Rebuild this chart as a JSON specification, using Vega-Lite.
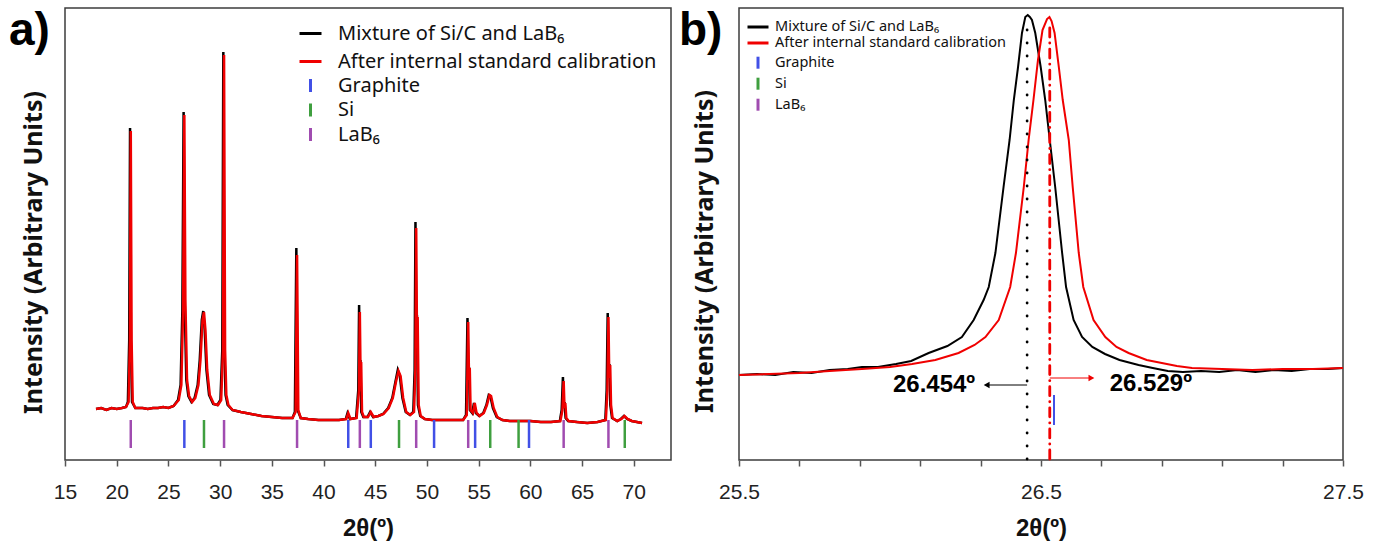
{
  "$schema": "https://vega.github.io/schema/vega-lite/v6.json",
  "background": "white",
  "padding": {"left": 8, "top": 7, "right": 0, "bottom": 0},
  "config": {
    "view": {"stroke": "#3c3c3c", "strokeWidth": 1.5},
    "font": "Liberation Sans",
    "axis": {"grid": false, "domain": false, "tickColor": "#555555", "tickWidth": 1.5, "tickSize": 6, "labelFont": "Liberation Sans", "labelFontSize": 21, "labelColor": "#222222", "labelPadding": 15, "labelOverlap": false, "labelFlush": false, "titleFont": "Liberation Sans", "titleFontWeight": "bold", "titleFontSize": 24, "titleColor": "#111111", "titlePadding": 14},
    "legend": {"labelFont": "Noto Sans", "labelColor": "#111111", "title": null, "labelLimit": 600}
  },
  "datasets": {
    "a_black": [
      {"series":"Mixture of Si/C and LaB₆","two_theta":18.0,"intensity":51},{"series":"Mixture of Si/C and LaB₆","two_theta":18.5,"intensity":52},{"series":"Mixture of Si/C and LaB₆","two_theta":19.0,"intensity":50},{"series":"Mixture of Si/C and LaB₆","two_theta":19.5,"intensity":52},{"series":"Mixture of Si/C and LaB₆","two_theta":20.0,"intensity":51},{"series":"Mixture of Si/C and LaB₆","two_theta":20.5,"intensity":52},{"series":"Mixture of Si/C and LaB₆","two_theta":20.9,"intensity":53},{"series":"Mixture of Si/C and LaB₆","two_theta":21.08,"intensity":58},{"series":"Mixture of Si/C and LaB₆","two_theta":21.21,"intensity":120},{"series":"Mixture of Si/C and LaB₆","two_theta":21.29,"intensity":332},{"series":"Mixture of Si/C and LaB₆","two_theta":21.37,"intensity":120},{"series":"Mixture of Si/C and LaB₆","two_theta":21.48,"intensity":58},{"series":"Mixture of Si/C and LaB₆","two_theta":21.8,"intensity":52},{"series":"Mixture of Si/C and LaB₆","two_theta":22.5,"intensity":52},{"series":"Mixture of Si/C and LaB₆","two_theta":23.0,"intensity":51},{"series":"Mixture of Si/C and LaB₆","two_theta":23.5,"intensity":52},{"series":"Mixture of Si/C and LaB₆","two_theta":24.0,"intensity":52},{"series":"Mixture of Si/C and LaB₆","two_theta":24.5,"intensity":53},{"series":"Mixture of Si/C and LaB₆","two_theta":25.0,"intensity":52},{"series":"Mixture of Si/C and LaB₆","two_theta":25.5,"intensity":54},{"series":"Mixture of Si/C and LaB₆","two_theta":25.93,"intensity":60},{"series":"Mixture of Si/C and LaB₆","two_theta":26.18,"intensity":75},{"series":"Mixture of Si/C and LaB₆","two_theta":26.35,"intensity":150},{"series":"Mixture of Si/C and LaB₆","two_theta":26.47,"intensity":348},{"series":"Mixture of Si/C and LaB₆","two_theta":26.57,"intensity":160},{"series":"Mixture of Si/C and LaB₆","two_theta":26.73,"intensity":80},{"series":"Mixture of Si/C and LaB₆","two_theta":26.93,"intensity":64},{"series":"Mixture of Si/C and LaB₆","two_theta":27.23,"intensity":58},{"series":"Mixture of Si/C and LaB₆","two_theta":27.53,"intensity":62},{"series":"Mixture of Si/C and LaB₆","two_theta":27.83,"intensity":75},{"series":"Mixture of Si/C and LaB₆","two_theta":28.03,"intensity":100},{"series":"Mixture of Si/C and LaB₆","two_theta":28.23,"intensity":140},{"series":"Mixture of Si/C and LaB₆","two_theta":28.37,"intensity":149},{"series":"Mixture of Si/C and LaB₆","two_theta":28.51,"intensity":130},{"series":"Mixture of Si/C and LaB₆","two_theta":28.68,"intensity":90},{"series":"Mixture of Si/C and LaB₆","two_theta":28.93,"intensity":65},{"series":"Mixture of Si/C and LaB₆","two_theta":29.33,"intensity":56},{"series":"Mixture of Si/C and LaB₆","two_theta":29.73,"intensity":55},{"series":"Mixture of Si/C and LaB₆","two_theta":30.03,"intensity":60},{"series":"Mixture of Si/C and LaB₆","two_theta":30.21,"intensity":110},{"series":"Mixture of Si/C and LaB₆","two_theta":30.31,"intensity":408},{"series":"Mixture of Si/C and LaB₆","two_theta":30.41,"intensity":110},{"series":"Mixture of Si/C and LaB₆","two_theta":30.53,"intensity":65},{"series":"Mixture of Si/C and LaB₆","two_theta":30.73,"intensity":55},{"series":"Mixture of Si/C and LaB₆","two_theta":31.2,"intensity":50},{"series":"Mixture of Si/C and LaB₆","two_theta":32.0,"intensity":48},{"series":"Mixture of Si/C and LaB₆","two_theta":33.0,"intensity":46},{"series":"Mixture of Si/C and LaB₆","two_theta":34.0,"intensity":44},{"series":"Mixture of Si/C and LaB₆","two_theta":35.0,"intensity":43},{"series":"Mixture of Si/C and LaB₆","two_theta":36.0,"intensity":42},{"series":"Mixture of Si/C and LaB₆","two_theta":37.0,"intensity":42},{"series":"Mixture of Si/C and LaB₆","two_theta":37.23,"intensity":48},{"series":"Mixture of Si/C and LaB₆","two_theta":37.37,"intensity":212},{"series":"Mixture of Si/C and LaB₆","two_theta":37.49,"intensity":50},{"series":"Mixture of Si/C and LaB₆","two_theta":37.8,"intensity":42},{"series":"Mixture of Si/C and LaB₆","two_theta":38.5,"intensity":41},{"series":"Mixture of Si/C and LaB₆","two_theta":39.5,"intensity":40},{"series":"Mixture of Si/C and LaB₆","two_theta":40.5,"intensity":40},{"series":"Mixture of Si/C and LaB₆","two_theta":41.5,"intensity":40},{"series":"Mixture of Si/C and LaB₆","two_theta":42.15,"intensity":41},{"series":"Mixture of Si/C and LaB₆","two_theta":42.32,"intensity":47},{"series":"Mixture of Si/C and LaB₆","two_theta":42.55,"intensity":41},{"series":"Mixture of Si/C and LaB₆","two_theta":43.15,"intensity":42},{"series":"Mixture of Si/C and LaB₆","two_theta":43.36,"intensity":70},{"series":"Mixture of Si/C and LaB₆","two_theta":43.44,"intensity":155},{"series":"Mixture of Si/C and LaB₆","two_theta":43.51,"intensity":85},{"series":"Mixture of Si/C and LaB₆","two_theta":43.57,"intensity":100},{"series":"Mixture of Si/C and LaB₆","two_theta":43.65,"intensity":48},{"series":"Mixture of Si/C and LaB₆","two_theta":43.85,"intensity":43},{"series":"Mixture of Si/C and LaB₆","two_theta":44.25,"intensity":43},{"series":"Mixture of Si/C and LaB₆","two_theta":44.5,"intensity":48},{"series":"Mixture of Si/C and LaB₆","two_theta":44.8,"intensity":43},{"series":"Mixture of Si/C and LaB₆","two_theta":45.3,"intensity":44},{"series":"Mixture of Si/C and LaB₆","two_theta":45.75,"intensity":46},{"series":"Mixture of Si/C and LaB₆","two_theta":46.25,"intensity":52},{"series":"Mixture of Si/C and LaB₆","two_theta":46.65,"intensity":62},{"series":"Mixture of Si/C and LaB₆","two_theta":46.95,"intensity":78},{"series":"Mixture of Si/C and LaB₆","two_theta":47.18,"intensity":90},{"series":"Mixture of Si/C and LaB₆","two_theta":47.38,"intensity":84},{"series":"Mixture of Si/C and LaB₆","two_theta":47.63,"intensity":62},{"series":"Mixture of Si/C and LaB₆","two_theta":47.95,"intensity":48},{"series":"Mixture of Si/C and LaB₆","two_theta":48.35,"intensity":45},{"series":"Mixture of Si/C and LaB₆","two_theta":48.68,"intensity":48},{"series":"Mixture of Si/C and LaB₆","two_theta":48.81,"intensity":90},{"series":"Mixture of Si/C and LaB₆","two_theta":48.89,"intensity":238},{"series":"Mixture of Si/C and LaB₆","two_theta":48.96,"intensity":135},{"series":"Mixture of Si/C and LaB₆","two_theta":49.03,"intensity":145},{"series":"Mixture of Si/C and LaB₆","two_theta":49.13,"intensity":55},{"series":"Mixture of Si/C and LaB₆","two_theta":49.35,"intensity":44},{"series":"Mixture of Si/C and LaB₆","two_theta":49.8,"intensity":41},{"series":"Mixture of Si/C and LaB₆","two_theta":50.5,"intensity":40},{"series":"Mixture of Si/C and LaB₆","two_theta":51.5,"intensity":40},{"series":"Mixture of Si/C and LaB₆","two_theta":52.5,"intensity":40},{"series":"Mixture of Si/C and LaB₆","two_theta":53.5,"intensity":40},{"series":"Mixture of Si/C and LaB₆","two_theta":53.78,"intensity":45},{"series":"Mixture of Si/C and LaB₆","two_theta":53.92,"intensity":142},{"series":"Mixture of Si/C and LaB₆","two_theta":54.0,"intensity":80},{"series":"Mixture of Si/C and LaB₆","two_theta":54.07,"intensity":93},{"series":"Mixture of Si/C and LaB₆","two_theta":54.15,"intensity":50},{"series":"Mixture of Si/C and LaB₆","two_theta":54.38,"intensity":47},{"series":"Mixture of Si/C and LaB₆","two_theta":54.55,"intensity":57},{"series":"Mixture of Si/C and LaB₆","two_theta":54.73,"intensity":47},{"series":"Mixture of Si/C and LaB₆","two_theta":55.05,"intensity":44},{"series":"Mixture of Si/C and LaB₆","two_theta":55.45,"intensity":47},{"series":"Mixture of Si/C and LaB₆","two_theta":55.75,"intensity":55},{"series":"Mixture of Si/C and LaB₆","two_theta":55.98,"intensity":65},{"series":"Mixture of Si/C and LaB₆","two_theta":56.13,"intensity":64},{"series":"Mixture of Si/C and LaB₆","two_theta":56.38,"intensity":52},{"series":"Mixture of Si/C and LaB₆","two_theta":56.75,"intensity":43},{"series":"Mixture of Si/C and LaB₆","two_theta":57.3,"intensity":40},{"series":"Mixture of Si/C and LaB₆","two_theta":58.0,"intensity":39},{"series":"Mixture of Si/C and LaB₆","two_theta":59.0,"intensity":39},{"series":"Mixture of Si/C and LaB₆","two_theta":60.0,"intensity":39},{"series":"Mixture of Si/C and LaB₆","two_theta":61.0,"intensity":38},{"series":"Mixture of Si/C and LaB₆","two_theta":62.0,"intensity":38},{"series":"Mixture of Si/C and LaB₆","two_theta":62.85,"intensity":39},{"series":"Mixture of Si/C and LaB₆","two_theta":63.03,"intensity":50},{"series":"Mixture of Si/C and LaB₆","two_theta":63.15,"intensity":83},{"series":"Mixture of Si/C and LaB₆","two_theta":63.23,"intensity":52},{"series":"Mixture of Si/C and LaB₆","two_theta":63.31,"intensity":58},{"series":"Mixture of Si/C and LaB₆","two_theta":63.41,"intensity":42},{"series":"Mixture of Si/C and LaB₆","two_theta":63.65,"intensity":39},{"series":"Mixture of Si/C and LaB₆","two_theta":64.5,"intensity":38},{"series":"Mixture of Si/C and LaB₆","two_theta":65.5,"intensity":37},{"series":"Mixture of Si/C and LaB₆","two_theta":66.5,"intensity":38},{"series":"Mixture of Si/C and LaB₆","two_theta":67.25,"intensity":40},{"series":"Mixture of Si/C and LaB₆","two_theta":67.38,"intensity":70},{"series":"Mixture of Si/C and LaB₆","two_theta":67.48,"intensity":147},{"series":"Mixture of Si/C and LaB₆","two_theta":67.56,"intensity":82},{"series":"Mixture of Si/C and LaB₆","two_theta":67.65,"intensity":96},{"series":"Mixture of Si/C and LaB₆","two_theta":67.73,"intensity":55},{"series":"Mixture of Si/C and LaB₆","two_theta":67.9,"intensity":42},{"series":"Mixture of Si/C and LaB₆","two_theta":68.4,"intensity":39},{"series":"Mixture of Si/C and LaB₆","two_theta":68.75,"intensity":41},{"series":"Mixture of Si/C and LaB₆","two_theta":69.05,"intensity":44},{"series":"Mixture of Si/C and LaB₆","two_theta":69.35,"intensity":41},{"series":"Mixture of Si/C and LaB₆","two_theta":69.8,"intensity":39},{"series":"Mixture of Si/C and LaB₆","two_theta":70.3,"intensity":38},{"series":"Mixture of Si/C and LaB₆","two_theta":70.8,"intensity":37}
    ],
    "a_red": [
      {"series":"After internal standard calibration","two_theta":18.0,"intensity":51},{"series":"After internal standard calibration","two_theta":18.5,"intensity":52},{"series":"After internal standard calibration","two_theta":19.0,"intensity":50},{"series":"After internal standard calibration","two_theta":19.5,"intensity":52},{"series":"After internal standard calibration","two_theta":20.0,"intensity":51},{"series":"After internal standard calibration","two_theta":20.5,"intensity":52},{"series":"After internal standard calibration","two_theta":20.9,"intensity":53},{"series":"After internal standard calibration","two_theta":21.15,"intensity":58},{"series":"After internal standard calibration","two_theta":21.28,"intensity":120},{"series":"After internal standard calibration","two_theta":21.36,"intensity":329},{"series":"After internal standard calibration","two_theta":21.44,"intensity":120},{"series":"After internal standard calibration","two_theta":21.55,"intensity":58},{"series":"After internal standard calibration","two_theta":21.8,"intensity":52},{"series":"After internal standard calibration","two_theta":22.5,"intensity":52},{"series":"After internal standard calibration","two_theta":23.0,"intensity":51},{"series":"After internal standard calibration","two_theta":23.5,"intensity":52},{"series":"After internal standard calibration","two_theta":24.0,"intensity":52},{"series":"After internal standard calibration","two_theta":24.5,"intensity":53},{"series":"After internal standard calibration","two_theta":25.0,"intensity":52},{"series":"After internal standard calibration","two_theta":25.5,"intensity":54},{"series":"After internal standard calibration","two_theta":26.0,"intensity":60},{"series":"After internal standard calibration","two_theta":26.25,"intensity":75},{"series":"After internal standard calibration","two_theta":26.42,"intensity":150},{"series":"After internal standard calibration","two_theta":26.54,"intensity":345},{"series":"After internal standard calibration","two_theta":26.64,"intensity":160},{"series":"After internal standard calibration","two_theta":26.8,"intensity":80},{"series":"After internal standard calibration","two_theta":27.0,"intensity":64},{"series":"After internal standard calibration","two_theta":27.3,"intensity":58},{"series":"After internal standard calibration","two_theta":27.6,"intensity":62},{"series":"After internal standard calibration","two_theta":27.9,"intensity":75},{"series":"After internal standard calibration","two_theta":28.1,"intensity":100},{"series":"After internal standard calibration","two_theta":28.3,"intensity":140},{"series":"After internal standard calibration","two_theta":28.44,"intensity":148},{"series":"After internal standard calibration","two_theta":28.58,"intensity":130},{"series":"After internal standard calibration","two_theta":28.75,"intensity":90},{"series":"After internal standard calibration","two_theta":29.0,"intensity":65},{"series":"After internal standard calibration","two_theta":29.4,"intensity":56},{"series":"After internal standard calibration","two_theta":29.8,"intensity":55},{"series":"After internal standard calibration","two_theta":30.1,"intensity":60},{"series":"After internal standard calibration","two_theta":30.28,"intensity":110},{"series":"After internal standard calibration","two_theta":30.38,"intensity":405},{"series":"After internal standard calibration","two_theta":30.48,"intensity":110},{"series":"After internal standard calibration","two_theta":30.6,"intensity":65},{"series":"After internal standard calibration","two_theta":30.8,"intensity":55},{"series":"After internal standard calibration","two_theta":31.2,"intensity":50},{"series":"After internal standard calibration","two_theta":32.0,"intensity":48},{"series":"After internal standard calibration","two_theta":33.0,"intensity":46},{"series":"After internal standard calibration","two_theta":34.0,"intensity":44},{"series":"After internal standard calibration","two_theta":35.0,"intensity":43},{"series":"After internal standard calibration","two_theta":36.0,"intensity":42},{"series":"After internal standard calibration","two_theta":37.0,"intensity":42},{"series":"After internal standard calibration","two_theta":37.3,"intensity":48},{"series":"After internal standard calibration","two_theta":37.44,"intensity":205},{"series":"After internal standard calibration","two_theta":37.56,"intensity":50},{"series":"After internal standard calibration","two_theta":37.8,"intensity":42},{"series":"After internal standard calibration","two_theta":38.5,"intensity":41},{"series":"After internal standard calibration","two_theta":39.5,"intensity":40},{"series":"After internal standard calibration","two_theta":40.5,"intensity":40},{"series":"After internal standard calibration","two_theta":41.5,"intensity":40},{"series":"After internal standard calibration","two_theta":42.2,"intensity":41},{"series":"After internal standard calibration","two_theta":42.39,"intensity":47},{"series":"After internal standard calibration","two_theta":42.6,"intensity":41},{"series":"After internal standard calibration","two_theta":43.2,"intensity":42},{"series":"After internal standard calibration","two_theta":43.43,"intensity":70},{"series":"After internal standard calibration","two_theta":43.51,"intensity":148},{"series":"After internal standard calibration","two_theta":43.58,"intensity":85},{"series":"After internal standard calibration","two_theta":43.64,"intensity":98},{"series":"After internal standard calibration","two_theta":43.72,"intensity":48},{"series":"After internal standard calibration","two_theta":43.9,"intensity":43},{"series":"After internal standard calibration","two_theta":44.3,"intensity":43},{"series":"After internal standard calibration","two_theta":44.57,"intensity":48},{"series":"After internal standard calibration","two_theta":44.85,"intensity":43},{"series":"After internal standard calibration","two_theta":45.3,"intensity":44},{"series":"After internal standard calibration","two_theta":45.8,"intensity":46},{"series":"After internal standard calibration","two_theta":46.3,"intensity":52},{"series":"After internal standard calibration","two_theta":46.7,"intensity":62},{"series":"After internal standard calibration","two_theta":47.0,"intensity":78},{"series":"After internal standard calibration","two_theta":47.25,"intensity":89},{"series":"After internal standard calibration","two_theta":47.45,"intensity":84},{"series":"After internal standard calibration","two_theta":47.7,"intensity":62},{"series":"After internal standard calibration","two_theta":48.0,"intensity":48},{"series":"After internal standard calibration","two_theta":48.4,"intensity":45},{"series":"After internal standard calibration","two_theta":48.75,"intensity":48},{"series":"After internal standard calibration","two_theta":48.88,"intensity":90},{"series":"After internal standard calibration","two_theta":48.96,"intensity":232},{"series":"After internal standard calibration","two_theta":49.03,"intensity":132},{"series":"After internal standard calibration","two_theta":49.1,"intensity":143},{"series":"After internal standard calibration","two_theta":49.2,"intensity":55},{"series":"After internal standard calibration","two_theta":49.4,"intensity":44},{"series":"After internal standard calibration","two_theta":49.8,"intensity":41},{"series":"After internal standard calibration","two_theta":50.5,"intensity":40},{"series":"After internal standard calibration","two_theta":51.5,"intensity":40},{"series":"After internal standard calibration","two_theta":52.5,"intensity":40},{"series":"After internal standard calibration","two_theta":53.5,"intensity":40},{"series":"After internal standard calibration","two_theta":53.85,"intensity":45},{"series":"After internal standard calibration","two_theta":53.99,"intensity":138},{"series":"After internal standard calibration","two_theta":54.07,"intensity":80},{"series":"After internal standard calibration","two_theta":54.14,"intensity":92},{"series":"After internal standard calibration","two_theta":54.22,"intensity":50},{"series":"After internal standard calibration","two_theta":54.45,"intensity":47},{"series":"After internal standard calibration","two_theta":54.62,"intensity":57},{"series":"After internal standard calibration","two_theta":54.8,"intensity":47},{"series":"After internal standard calibration","two_theta":55.1,"intensity":44},{"series":"After internal standard calibration","two_theta":55.5,"intensity":47},{"series":"After internal standard calibration","two_theta":55.8,"intensity":55},{"series":"After internal standard calibration","two_theta":56.05,"intensity":65},{"series":"After internal standard calibration","two_theta":56.2,"intensity":64},{"series":"After internal standard calibration","two_theta":56.45,"intensity":52},{"series":"After internal standard calibration","two_theta":56.8,"intensity":43},{"series":"After internal standard calibration","two_theta":57.3,"intensity":40},{"series":"After internal standard calibration","two_theta":58.0,"intensity":39},{"series":"After internal standard calibration","two_theta":59.0,"intensity":39},{"series":"After internal standard calibration","two_theta":60.0,"intensity":39},{"series":"After internal standard calibration","two_theta":61.0,"intensity":38},{"series":"After internal standard calibration","two_theta":62.0,"intensity":38},{"series":"After internal standard calibration","two_theta":62.9,"intensity":39},{"series":"After internal standard calibration","two_theta":63.1,"intensity":50},{"series":"After internal standard calibration","two_theta":63.22,"intensity":79},{"series":"After internal standard calibration","two_theta":63.3,"intensity":52},{"series":"After internal standard calibration","two_theta":63.38,"intensity":57},{"series":"After internal standard calibration","two_theta":63.48,"intensity":42},{"series":"After internal standard calibration","two_theta":63.7,"intensity":39},{"series":"After internal standard calibration","two_theta":64.5,"intensity":38},{"series":"After internal standard calibration","two_theta":65.5,"intensity":37},{"series":"After internal standard calibration","two_theta":66.5,"intensity":38},{"series":"After internal standard calibration","two_theta":67.3,"intensity":40},{"series":"After internal standard calibration","two_theta":67.45,"intensity":70},{"series":"After internal standard calibration","two_theta":67.55,"intensity":143},{"series":"After internal standard calibration","two_theta":67.63,"intensity":82},{"series":"After internal standard calibration","two_theta":67.72,"intensity":95},{"series":"After internal standard calibration","two_theta":67.8,"intensity":55},{"series":"After internal standard calibration","two_theta":67.95,"intensity":42},{"series":"After internal standard calibration","two_theta":68.4,"intensity":39},{"series":"After internal standard calibration","two_theta":68.8,"intensity":41},{"series":"After internal standard calibration","two_theta":69.1,"intensity":44},{"series":"After internal standard calibration","two_theta":69.4,"intensity":41},{"series":"After internal standard calibration","two_theta":69.8,"intensity":39},{"series":"After internal standard calibration","two_theta":70.3,"intensity":38},{"series":"After internal standard calibration","two_theta":70.8,"intensity":37}
    ],
    "a_ticks": [
      {"phase":"LaB₆","two_theta":21.36},{"phase":"LaB₆","two_theta":30.38},{"phase":"LaB₆","two_theta":37.44},{"phase":"LaB₆","two_theta":43.51},{"phase":"LaB₆","two_theta":48.96},{"phase":"LaB₆","two_theta":53.99},{"phase":"LaB₆","two_theta":63.22},{"phase":"LaB₆","two_theta":67.55},
      {"phase":"Graphite","two_theta":26.54},{"phase":"Graphite","two_theta":42.39},{"phase":"Graphite","two_theta":44.57},{"phase":"Graphite","two_theta":50.69},{"phase":"Graphite","two_theta":54.66},{"phase":"Graphite","two_theta":59.87},
      {"phase":"Si","two_theta":28.44},{"phase":"Si","two_theta":47.3},{"phase":"Si","two_theta":56.12},{"phase":"Si","two_theta":58.86},{"phase":"Si","two_theta":69.13}
    ],
    "b_black": [
      {"series":"Mixture of Si/C and LaB₆","two_theta":25.5,"intensity":85},{"series":"Mixture of Si/C and LaB₆","two_theta":25.56,"intensity":86},{"series":"Mixture of Si/C and LaB₆","two_theta":25.62,"intensity":85},{"series":"Mixture of Si/C and LaB₆","two_theta":25.68,"intensity":88},{"series":"Mixture of Si/C and LaB₆","two_theta":25.74,"intensity":87},{"series":"Mixture of Si/C and LaB₆","two_theta":25.8,"intensity":90},{"series":"Mixture of Si/C and LaB₆","two_theta":25.86,"intensity":91},{"series":"Mixture of Si/C and LaB₆","two_theta":25.907,"intensity":93},{"series":"Mixture of Si/C and LaB₆","two_theta":25.96,"intensity":93},{"series":"Mixture of Si/C and LaB₆","two_theta":26.02,"intensity":96},{"series":"Mixture of Si/C and LaB₆","two_theta":26.07,"intensity":99},{"series":"Mixture of Si/C and LaB₆","two_theta":26.128,"intensity":107},{"series":"Mixture of Si/C and LaB₆","two_theta":26.19,"intensity":114},{"series":"Mixture of Si/C and LaB₆","two_theta":26.238,"intensity":123},{"series":"Mixture of Si/C and LaB₆","two_theta":26.277,"intensity":140},{"series":"Mixture of Si/C and LaB₆","two_theta":26.31,"intensity":160},{"series":"Mixture of Si/C and LaB₆","two_theta":26.327,"intensity":173},{"series":"Mixture of Si/C and LaB₆","two_theta":26.349,"intensity":207},{"series":"Mixture of Si/C and LaB₆","two_theta":26.376,"intensity":273},{"series":"Mixture of Si/C and LaB₆","two_theta":26.396,"intensity":320},{"series":"Mixture of Si/C and LaB₆","two_theta":26.41,"intensity":360},{"series":"Mixture of Si/C and LaB₆","two_theta":26.424,"intensity":393},{"series":"Mixture of Si/C and LaB₆","two_theta":26.437,"intensity":427},{"series":"Mixture of Si/C and LaB₆","two_theta":26.448,"intensity":443},{"series":"Mixture of Si/C and LaB₆","two_theta":26.456,"intensity":445},{"series":"Mixture of Si/C and LaB₆","two_theta":26.463,"intensity":443},{"series":"Mixture of Si/C and LaB₆","two_theta":26.47,"intensity":440},{"series":"Mixture of Si/C and LaB₆","two_theta":26.481,"intensity":427},{"series":"Mixture of Si/C and LaB₆","two_theta":26.499,"intensity":393},{"series":"Mixture of Si/C and LaB₆","two_theta":26.514,"intensity":360},{"series":"Mixture of Si/C and LaB₆","two_theta":26.529,"intensity":320},{"series":"Mixture of Si/C and LaB₆","two_theta":26.547,"intensity":273},{"series":"Mixture of Si/C and LaB₆","two_theta":26.57,"intensity":207},{"series":"Mixture of Si/C and LaB₆","two_theta":26.583,"intensity":173},{"series":"Mixture of Si/C and LaB₆","two_theta":26.608,"intensity":140},{"series":"Mixture of Si/C and LaB₆","two_theta":26.636,"intensity":123},{"series":"Mixture of Si/C and LaB₆","two_theta":26.67,"intensity":113},{"series":"Mixture of Si/C and LaB₆","two_theta":26.712,"intensity":106},{"series":"Mixture of Si/C and LaB₆","two_theta":26.76,"intensity":100},{"series":"Mixture of Si/C and LaB₆","two_theta":26.823,"intensity":95},{"series":"Mixture of Si/C and LaB₆","two_theta":26.87,"intensity":92},{"series":"Mixture of Si/C and LaB₆","two_theta":26.92,"intensity":89},{"series":"Mixture of Si/C and LaB₆","two_theta":26.97,"intensity":88},{"series":"Mixture of Si/C and LaB₆","two_theta":27.03,"intensity":89},{"series":"Mixture of Si/C and LaB₆","two_theta":27.09,"intensity":88},{"series":"Mixture of Si/C and LaB₆","two_theta":27.15,"intensity":90},{"series":"Mixture of Si/C and LaB₆","two_theta":27.21,"intensity":88},{"series":"Mixture of Si/C and LaB₆","two_theta":27.27,"intensity":90},{"series":"Mixture of Si/C and LaB₆","two_theta":27.33,"intensity":89},{"series":"Mixture of Si/C and LaB₆","two_theta":27.39,"intensity":91},{"series":"Mixture of Si/C and LaB₆","two_theta":27.45,"intensity":91},{"series":"Mixture of Si/C and LaB₆","two_theta":27.5,"intensity":92}
    ],
    "b_red": [
      {"series":"After internal standard calibration","two_theta":25.5,"intensity":85},{"series":"After internal standard calibration","two_theta":25.6,"intensity":86},{"series":"After internal standard calibration","two_theta":25.7,"intensity":87},{"series":"After internal standard calibration","two_theta":25.8,"intensity":89},{"series":"After internal standard calibration","two_theta":25.907,"intensity":91},{"series":"After internal standard calibration","two_theta":26.0,"intensity":93},{"series":"After internal standard calibration","two_theta":26.073,"intensity":96},{"series":"After internal standard calibration","two_theta":26.15,"intensity":100},{"series":"After internal standard calibration","two_theta":26.227,"intensity":107},{"series":"After internal standard calibration","two_theta":26.28,"intensity":115},{"series":"After internal standard calibration","two_theta":26.316,"intensity":123},{"series":"After internal standard calibration","two_theta":26.36,"intensity":140},{"series":"After internal standard calibration","two_theta":26.398,"intensity":173},{"series":"After internal standard calibration","two_theta":26.417,"intensity":207},{"series":"After internal standard calibration","two_theta":26.443,"intensity":273},{"series":"After internal standard calibration","two_theta":26.459,"intensity":320},{"series":"After internal standard calibration","two_theta":26.467,"intensity":340},{"series":"After internal standard calibration","two_theta":26.475,"intensity":360},{"series":"After internal standard calibration","two_theta":26.49,"intensity":400},{"series":"After internal standard calibration","two_theta":26.505,"intensity":430},{"series":"After internal standard calibration","two_theta":26.52,"intensity":441},{"series":"After internal standard calibration","two_theta":26.528,"intensity":443},{"series":"After internal standard calibration","two_theta":26.535,"intensity":439},{"series":"After internal standard calibration","two_theta":26.545,"intensity":427},{"series":"After internal standard calibration","two_theta":26.559,"intensity":393},{"series":"After internal standard calibration","two_theta":26.572,"intensity":360},{"series":"After internal standard calibration","two_theta":26.582,"intensity":340},{"series":"After internal standard calibration","two_theta":26.592,"intensity":320},{"series":"After internal standard calibration","two_theta":26.605,"intensity":273},{"series":"After internal standard calibration","two_theta":26.625,"intensity":207},{"series":"After internal standard calibration","two_theta":26.64,"intensity":173},{"series":"After internal standard calibration","two_theta":26.674,"intensity":140},{"series":"After internal standard calibration","two_theta":26.713,"intensity":123},{"series":"After internal standard calibration","two_theta":26.75,"intensity":113},{"series":"After internal standard calibration","two_theta":26.79,"intensity":107},{"series":"After internal standard calibration","two_theta":26.85,"intensity":100},{"series":"After internal standard calibration","two_theta":26.9,"intensity":97},{"series":"After internal standard calibration","two_theta":26.95,"intensity":94},{"series":"After internal standard calibration","two_theta":27.0,"intensity":92},{"series":"After internal standard calibration","two_theta":27.1,"intensity":91},{"series":"After internal standard calibration","two_theta":27.2,"intensity":90},{"series":"After internal standard calibration","two_theta":27.3,"intensity":91},{"series":"After internal standard calibration","two_theta":27.4,"intensity":91},{"series":"After internal standard calibration","two_theta":27.5,"intensity":92}
    ],
    "b_ticks": [
      {"phase":"Graphite","two_theta":26.543}
    ],
    "b_peaks": [
      {"series":"Mixture of Si/C and LaB₆","two_theta":26.454,"label":"26.454º"},
      {"series":"After internal standard calibration","two_theta":26.529,"label":"26.529º"}
    ]
  },
  "spacing": 6,
  "resolve": {"scale": {"x": "independent", "y": "independent", "color": "independent", "stroke": "independent", "strokeDash": "independent"}, "legend": {"color": "independent", "stroke": "independent"}},
  "hconcat": [
    {
      "width": 606,
      "height": 452,
      "layer": [
        {
          "data": {"name": "a_black"},
          "mark": {"type": "line", "strokeWidth": 2.5},
          "encoding": {
            "x": {"field": "two_theta", "type": "quantitative", "scale": {"domain": [15, 73.6], "nice": false, "zero": false},
                  "axis": {"title": "2θ(º)", "values": [15, 17.5, 20, 22.5, 25, 27.5, 30, 32.5, 35, 37.5, 40, 42.5, 45, 47.5, 50, 52.5, 55, 57.5, 60, 62.5, 65, 67.5, 70, 72.5], "labelExpr": "datum.value % 5 === 0 ? format(datum.value, 'd') : ''"}},
            "y": {"field": "intensity", "type": "quantitative", "scale": {"domain": [0, 452], "nice": false},
                  "axis": {"title": "Intensity (Arbitrary Units)", "labels": false, "ticks": false, "domain": false, "titleFont": "Noto Sans", "titleFontSize": 25, "titlePadding": 19, "titleY": 244}},
            "color": {"field": "series", "type": "nominal",
                      "scale": {"domain": ["Mixture of Si/C and LaB₆", "After internal standard calibration"], "range": ["#000000", "#f00000"]},
                      "legend": {"orient": "none", "legendX": 234, "legendY": 14, "labelFontSize": 20, "labelOffset": 16, "rowPadding": 6, "symbolSize": 400, "symbolStrokeWidth": 3, "symbolType": "M-1.1,0H1.1"}}
          }
        },
        {
          "data": {"name": "a_red"},
          "mark": {"type": "line", "strokeWidth": 2.5},
          "encoding": {
            "x": {"field": "two_theta", "type": "quantitative"},
            "y": {"field": "intensity", "type": "quantitative"},
            "color": {"field": "series", "type": "nominal"}
          }
        },
        {
          "data": {"name": "a_ticks"},
          "mark": {"type": "rule", "strokeWidth": 2.5},
          "encoding": {
            "x": {"field": "two_theta", "type": "quantitative"},
            "y": {"datum": 12},
            "y2": {"datum": 40},
            "stroke": {"field": "phase", "type": "nominal",
                       "scale": {"domain": ["Graphite", "Si", "LaB₆"], "range": ["#4150e6", "#3f9f3f", "#a04cb0"]},
                       "legend": {"orient": "none", "legendX": 234, "legendY": 66, "labelFontSize": 20, "labelOffset": 16, "rowPadding": -0.5, "symbolSize": 400, "symbolStrokeWidth": 3, "symbolType": "M0,-0.65V0.65"}}
          }
        },
        {
          "data": {"values": [{"panel": "a)"}]},
          "mark": {"type": "text", "align": "left", "baseline": "top", "font": "Liberation Sans", "fontSize": 46, "fontWeight": "bold", "color": "#000000"},
          "encoding": {
            "x": {"datum": 9.58},
            "y": {"datum": 451},
            "text": {"field": "panel"}
          }
        }
      ]
    },
    {
      "width": 604,
      "height": 452,
      "layer": [
        {
          "data": {"name": "b_black"},
          "mark": {"type": "line", "strokeWidth": 2},
          "encoding": {
            "x": {"field": "two_theta", "type": "quantitative", "scale": {"domain": [25.5, 27.5], "nice": false, "zero": false},
                  "axis": {"title": "2θ(º)", "values": [25.5, 25.6, 25.7, 25.8, 25.9, 26.0, 26.1, 26.2, 26.3, 26.4, 26.5, 26.6, 26.7, 26.8, 26.9, 27.0, 27.1, 27.2, 27.3, 27.4, 27.5], "labelExpr": "round(datum.value * 10) % 5 === 0 ? format(datum.value, '.1f') : ''"}},
            "y": {"field": "intensity", "type": "quantitative", "scale": {"domain": [0, 452], "nice": false},
                  "axis": {"title": "Intensity (Arbitrary Units)", "labels": false, "ticks": false, "domain": false, "titleFont": "Noto Sans", "titleFontSize": 25, "titlePadding": 22, "titleY": 243}},
            "color": {"field": "series", "type": "nominal",
                      "scale": {"domain": ["Mixture of Si/C and LaB₆", "After internal standard calibration"], "range": ["#000000", "#f00000"]},
                      "legend": {"orient": "none", "legendX": 10, "legendY": 10, "labelFontSize": 14.5, "labelOffset": 8, "rowPadding": -0.8, "symbolSize": 225, "symbolStrokeWidth": 3, "symbolType": "M-1.4,0H1.4"}}
          }
        },
        {
          "data": {"name": "b_red"},
          "mark": {"type": "line", "strokeWidth": 2},
          "encoding": {
            "x": {"field": "two_theta", "type": "quantitative"},
            "y": {"field": "intensity", "type": "quantitative"},
            "color": {"field": "series", "type": "nominal"}
          }
        },
        {
          "data": {"name": "b_peaks"},
          "mark": {"type": "rule", "strokeWidth": 2.8, "strokeCap": "round"},
          "encoding": {
            "x": {"field": "two_theta", "type": "quantitative"},
            "y": {"datum": 1},
            "y2": {"datum": 434},
            "color": {"field": "series", "type": "nominal"},
            "strokeDash": {"field": "label", "type": "nominal", "legend": null,
                           "scale": {"domain": ["26.454º", "26.529º"], "range": [[0.1, 12.9], [9, 6, 0.1, 6]]}}
          }
        },
        {
          "data": {"name": "b_ticks"},
          "mark": {"type": "rule", "strokeWidth": 2},
          "encoding": {
            "x": {"field": "two_theta", "type": "quantitative"},
            "y": {"datum": 35},
            "y2": {"datum": 65},
            "stroke": {"field": "phase", "type": "nominal",
                       "scale": {"domain": ["Graphite", "Si", "LaB₆"], "range": ["#4150e6", "#3f9f3f", "#a04cb0"]},
                       "legend": {"orient": "none", "legendX": 10, "legendY": 45.7, "labelFontSize": 14.5, "labelOffset": 8, "rowPadding": -7, "symbolSize": 225, "symbolStrokeWidth": 3, "symbolType": "M0,-0.8V0.8"}}
          }
        },
        {
          "data": {"name": "b_peaks"},
          "transform": [{"filter": "datum.two_theta < 26.5"}],
          "mark": {"type": "text", "align": "right", "baseline": "alphabetic", "dx": -52, "font": "Liberation Sans", "fontSize": 24, "fontWeight": "bold", "color": "#000000"},
          "encoding": {
            "x": {"field": "two_theta", "type": "quantitative"},
            "y": {"datum": 68},
            "text": {"field": "label"}
          }
        },
        {
          "data": {"name": "b_peaks"},
          "transform": [{"filter": "datum.two_theta > 26.5"}],
          "mark": {"type": "text", "align": "left", "baseline": "alphabetic", "dx": 60, "font": "Liberation Sans", "fontSize": 24, "fontWeight": "bold", "color": "#000000"},
          "encoding": {
            "x": {"field": "two_theta", "type": "quantitative"},
            "y": {"datum": 69},
            "text": {"field": "label"}
          }
        },
        {
          "data": {"name": "b_peaks"},
          "transform": [{"filter": "datum.two_theta < 26.5"}],
          "mark": {"type": "rule", "strokeWidth": 1, "color": "#000000"},
          "encoding": {
            "x": {"field": "two_theta", "type": "quantitative"},
            "x2": {"datum": 26.325},
            "y": {"datum": 75}
          }
        },
        {
          "data": {"name": "b_peaks"},
          "transform": [{"filter": "datum.two_theta > 26.5"}],
          "mark": {"type": "rule", "strokeWidth": 1, "color": "#f00000"},
          "encoding": {
            "x": {"field": "two_theta", "type": "quantitative"},
            "x2": {"datum": 26.66},
            "y": {"datum": 82}
          }
        },
        {
          "data": {"name": "b_peaks"},
          "transform": [{"filter": "datum.two_theta < 26.5"}],
          "mark": {"type": "point", "shape": "triangle-left", "size": 45, "filled": true, "color": "#000000", "opacity": 1},
          "encoding": {
            "x": {"datum": 26.32},
            "y": {"datum": 75}
          }
        },
        {
          "data": {"name": "b_peaks"},
          "transform": [{"filter": "datum.two_theta > 26.5"}],
          "mark": {"type": "point", "shape": "triangle-right", "size": 45, "filled": true, "color": "#f00000", "opacity": 1},
          "encoding": {
            "x": {"datum": 26.667},
            "y": {"datum": 82}
          }
        },
        {
          "data": {"values": [{"panel": "b)"}]},
          "mark": {"type": "text", "align": "left", "baseline": "top", "font": "Liberation Sans", "fontSize": 46, "fontWeight": "bold", "color": "#000000"},
          "encoding": {
            "x": {"datum": 25.301},
            "y": {"datum": 451},
            "text": {"field": "panel"}
          }
        }
      ]
    }
  ]
}
